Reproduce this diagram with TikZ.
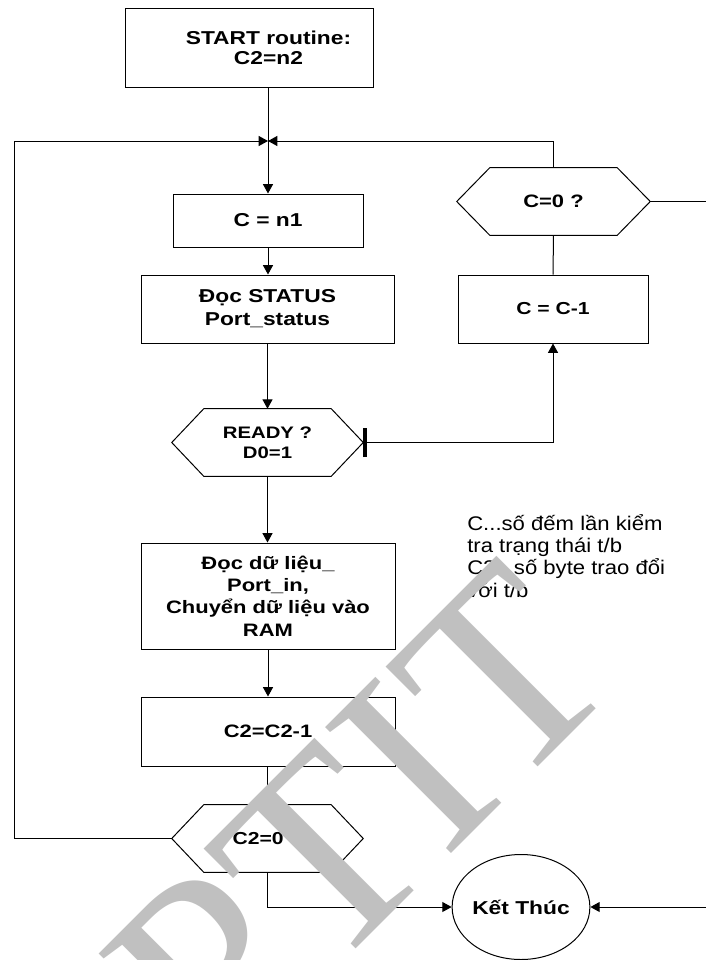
\documentclass[tikz,border=0pt]{standalone}
\usepackage{fontspec}
\setmainfont{Liberation Sans}
\newfontfamily\boxfont{Liberation Sans}[FakeStretch=1.22]
\newfontfamily\notefont{Liberation Sans}[FakeStretch=1.12]
\newfontfamily\wmfont{Liberation Serif}
\usetikzlibrary{arrows.meta,shapes.geometric,calc}
\definecolor{wmgray}{RGB}{192,192,192}

\begin{document}
\begin{tikzpicture}[x=0.75pt,y=-0.75pt,
  btxt/.style 2 args={font=\boxfont\bfseries\fontsize{#1}{#2}\selectfont},
  proc/.style={draw, line width=0.75pt, rectangle, inner sep=0pt, align=center},
  hexbody/.style={rectangle, inner sep=0pt, align=center, minimum width=95.25pt, minimum height=50.25pt},
  hexline/.style={line width=0.75pt, line join=miter},
  link/.style={line width=0.75pt},
  arr/.style={link, -{Triangle[length=7pt,width=7.5pt]}},
  wm/.style={inner sep=0pt, text=wmgray, font=\wmfont\fontsize{204pt}{204pt}\selectfont}
]
\useasboundingbox (0,0) rectangle (706,960);

% --- process boxes -------------------------------------------------------
\node[proc, minimum width=186pt, minimum height=59.25pt,
  label={[btxt={14pt}{15pt}, align=center, xshift=14.6pt]center:{START routine:\\C2=n2}}] (start) at (249,47.5) {};
\node[proc, btxt={14pt}{15pt}, minimum width=142.5pt, minimum height=39.75pt] (cn1) at (268,220.5)
  {C = n1};
\node[proc, btxt={14pt}{17.25pt}, minimum width=189.75pt, minimum height=51pt] (status) at (267.5,309)
  {Đọc STATUS\\Port\_status};
\node[proc, btxt={13.5pt}{16.7pt}, minimum width=190.5pt, minimum height=79.5pt] (data) at (268,596)
  {Đọc dữ liệu\_\\Port\_in,\\Chuyển dữ liệu vào\\RAM};
\node[proc, btxt={13.5pt}{15pt}, minimum width=190.5pt, minimum height=51.75pt] (c2dec) at (268,731.5)
  {C2=C2-1};
\node[proc, btxt={13pt}{15pt}, minimum width=142.5pt, minimum height=51pt] (cdec) at (553,309)
  {C = C-1};

% --- decision hexagons -----------------------------------------------------
\node[hexbody, btxt={12.5pt}{15pt}] (ready) at (267.5,442.5) {READY ?\\D0=1};
\node[hexbody, btxt={13pt}{15pt}] (c2zero) at (267.5,838.5) {C2=0 ?};
\node[hexbody, btxt={13.5pt}{15pt}] (czero) at (553.5,201.5) {C=0 ?};

\coordinate (readyW) at ([xshift=-24pt]ready.west);
\coordinate (readyE) at ([xshift=24pt]ready.east);
\coordinate (c2zW) at ([xshift=-24pt]c2zero.west);
\coordinate (c2zE) at ([xshift=24pt]c2zero.east);
\coordinate (czW) at ([xshift=-24.75pt]czero.west);
\coordinate (czE) at ([xshift=24.75pt]czero.east);

\draw[hexline] (ready.north west) -- (ready.north east) -- (readyE) -- (ready.south east)
  -- (ready.south west) -- (readyW) -- cycle;
\draw[hexline] (c2zero.north west) -- (c2zero.north east) -- (c2zE) -- (c2zero.south east)
  -- (c2zero.south west) -- (c2zW) -- cycle;
\draw[hexline] (czero.north west) -- (czero.north east) -- (czE) -- (czero.south east)
  -- (czero.south west) -- (czW) -- cycle;

% --- terminator --------------------------------------------------------------
\node[draw, line width=0.75pt, ellipse, inner sep=0pt, minimum width=95.25pt,
  minimum height=78.75pt, btxt={14pt}{15pt}] (finish) at (521,907) {Kết Thúc};

% --- side note -------------------------------------------------------------------
\node[anchor=base west, inner sep=0pt, font=\notefont\fontsize{14.8pt}{16.7pt}\selectfont] (note) at (467,530)
  {\begin{tabular}[t]{@{}l@{}}C...số đếm lần kiểm\\tra trạng thái t/b\\C2...số byte trao đổi\\với t/b\end{tabular}};

% --- connectors ------------------------------------------------------------------
\coordinate (jn) at (268,141);
\coordinate (lft) at (14,141);
\coordinate (exitR) at (706,201.5);
\coordinate (entryR) at (706,907);

\draw[arr] (start.south -| cn1.north) -- (cn1.north);
\draw[arr] (c2zW) -| (lft) -- (jn);
\draw[arr] (czero.north) |- (jn);
\draw[link] (czero.south) -- (cdec.north);
\draw[link] (czE) -- (exitR);
\draw[arr] (cn1.south) -- (status.north -| cn1.south);
\draw[arr] (status.south -| ready.north) -- (ready.north);
\draw[link, {Bar[width=21.75pt,line width=2.8pt]}-{Triangle[length=7pt,width=7.5pt]}] (readyE) -| (cdec.south);
\draw[arr] (ready.south) -- (data.north -| ready.south);
\draw[arr] (data.south) -- (c2dec.north);
\draw[link] (c2dec.south -| c2zero.north) -- (c2zero.north);
\draw[arr] (c2zero.south) |- (finish.west);
\draw[arr] (entryR) -- (finish.east);

% --- watermark -------------------------------------------------------------------
\node[wm, rotate=45, anchor=north east] (wmark) at (500,553) {PTIT};
\end{tikzpicture}
\end{document}
